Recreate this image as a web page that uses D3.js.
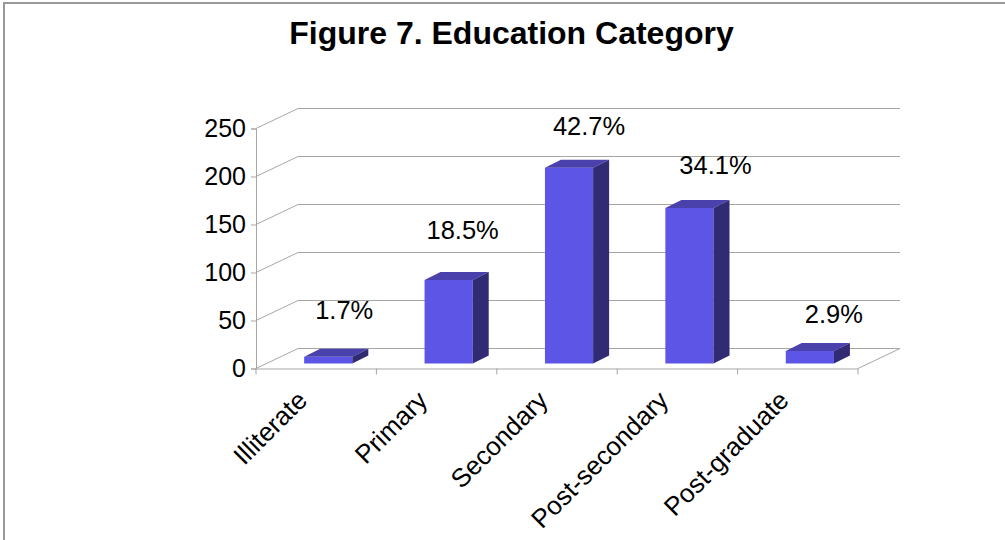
<!DOCTYPE html>
<html>
<head>
<meta charset="utf-8">
<script src="https://cdn.jsdelivr.net/npm/d3@7"></script>
<style>
  html, body { margin: 0; padding: 0; background: #fff; }
  text { font-family: "Liberation Sans", Arial, sans-serif; fill: #000; }
</style>
</head>
<body>
<div id="graf"></div>
<script>
// Datos
categorias = ['Illiterate', 'Primary', 'Secondary', 'Post-secondary', 'Post-graduate']
valores = [7, 87, 204, 162, 13]
etiquetas = ['1.7%', '18.5%', '42.7%', '34.1%', '2.9%']
ticks_y = [0, 50, 100, 150, 200, 250]

ancho_total = 1005
alto_total = 540

// Plano frontal del grafico y desplazamiento de la pared del fondo
margins = {top: 128.5, left: 256, right: 147, bottom: 171.5}
ancho = ancho_total - margins.left - margins.right
alto = alto_total - margins.top - margins.bottom
prof = {x: 42, y: -20}

// Ajustes de las etiquetas respecto a cada barra
ajuste_x = [16, 14, 20, 26, 24]
ajuste_y = [-47, -50, -42, -43, -37]

svg = d3.select('#graf').append('svg')
        .attr('width', ancho_total)
        .attr('height', alto_total)
        .style('display', 'block')

// Borde del grafico (arriba e izquierda)
svg.append('path')
   .attr('d', `M4,${ alto_total }V3H${ ancho_total }`)
   .attr('fill', 'none')
   .attr('stroke', '#999').attr('stroke-width', 2)

svg.append('text')
   .attr('x', 511.5)
   .attr('y', 44)
   .attr('text-anchor', 'middle')
   .style('font-size', '32px')
   .style('font-weight', 'bold')
   .text('Figure 7. Education Category')

g = svg.append('g')
       .attr('transform', `translate(${ margins.left }, ${ margins.top })`)

// -- Escaladores --
x = d3.scaleBand()
      .domain(categorias)
      .range([0, ancho])
y = d3.scaleLinear()
      .domain([0, 250])
      .range([alto, 0])

// -- Rejilla y paredes --
gris = '#a6a6a6'
ticks_y.forEach(t => {
    g.append('line')
     .attr('x1', prof.x).attr('x2', ancho + prof.x)
     .attr('y1', y(t) + prof.y).attr('y2', y(t) + prof.y)
     .attr('stroke', gris)
    g.append('line')
     .attr('x1', 0).attr('x2', prof.x)
     .attr('y1', y(t)).attr('y2', y(t) + prof.y)
     .attr('stroke', gris)
})
g.append('line')
 .attr('x1', ancho).attr('x2', ancho + prof.x)
 .attr('y1', y(0)).attr('y2', y(0) + prof.y)
 .attr('stroke', gris)

// -- Ejes --
yAxCall = d3.axisLeft(y).tickValues(ticks_y).tickSize(5).tickPadding(5)
yAxGroup = g.append('g').attr('class', 'eje').call(yAxCall)
yAxGroup.selectAll('text').style('font-size', '25px')

xAxCall = d3.axisBottom(x).tickSize(0).tickFormat(d => d)
xAxGroup = g.append('g')
            .attr('class', 'eje')
            .attr('transform', `translate(0, ${ alto })`)
            .call(xAxCall)
xAxGroup.selectAll('text')
        .style('font-size', '26px')
        .attr('text-anchor', 'end')
        .attr('transform', 'translate(-14, 27) rotate(-45)')
        .attr('x', 0).attr('y', 0).attr('dy', '0.35em')
// Marcas entre categorias
limites = categorias.map(c => x(c)).concat([ancho])
xAxGroup.selectAll('line.limite')
        .data(limites)
        .enter().append('line')
        .attr('class', 'limite')
        .attr('x1', d => d).attr('x2', d => d)
        .attr('y1', 0).attr('y2', 6)
        .attr('stroke', gris)
g.selectAll('.eje path, .eje .tick line').attr('stroke', gris)

// -- Barras 3D --
lado = {x: 16, y: -8}
ancho_barra = x.bandwidth() * 0.4
corrimiento = {x: x.bandwidth() * 0.4, y: -5}

barras = g.selectAll('g.barra')
          .data(valores)
          .enter().append('g')
          .attr('class', 'barra')
          .attr('transform', (d, i) => `translate(${ x(categorias[i]) + corrimiento.x }, ${ corrimiento.y })`)

barras.append('rect')
      .attr('x', 0)
      .attr('y', d => y(d))
      .attr('width', ancho_barra)
      .attr('height', d => alto - y(d))
      .attr('fill', '#5c55e6')
barras.append('path')
      .attr('d', d => `M0,${ y(d) }l${ lado.x },${ lado.y }h${ ancho_barra }l${ -lado.x },${ -lado.y }z`)
      .attr('fill', '#4a41ac')
barras.append('path')
      .attr('d', d => `M${ ancho_barra },${ y(d) }l${ lado.x },${ lado.y }V${ alto + lado.y }l${ -lado.x },${ -lado.y }z`)
      .attr('fill', '#312b73')

barras.append('text')
      .attr('x', (d, i) => ancho_barra / 2 + ajuste_x[i])
      .attr('y', (d, i) => y(d) + ajuste_y[i])
      .attr('dy', '0.35em')
      .attr('text-anchor', 'middle')
      .style('font-size', '25.5px')
      .text((d, i) => etiquetas[i])
</script>
</body>
</html>
